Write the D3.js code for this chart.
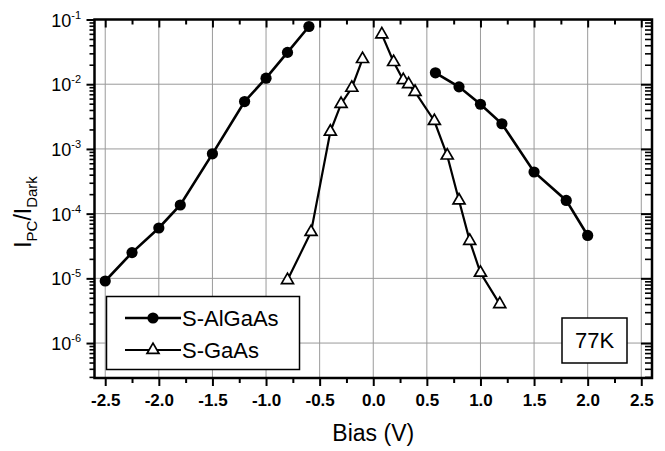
<!DOCTYPE html>
<html><head><meta charset="utf-8">
<script src="https://cdn.jsdelivr.net/npm/d3@7"></script>
<style>body{margin:0;background:#fff}svg{display:block}text{font-family:"Liberation Sans",Arial,sans-serif;fill:#000}</style>
</head><body><svg id="c" width="665" height="451"></svg>
<script>
// Data
const alLeftBias = [-2.5, -2.25, -2.0, -1.8, -1.5, -1.2, -1.0, -0.8, -0.6];
const alLeftVal  = [9.1e-6, 2.5e-5, 6.0e-5, 1.36e-4, 8.4e-4, 5.4e-3, 1.24e-2, 3.1e-2, 7.8e-2];
const alRightBias = [0.58, 0.8, 1.0, 1.2, 1.5, 1.8, 2.0];
const alRightVal  = [1.5e-2, 9.1e-3, 4.9e-3, 2.45e-3, 4.4e-4, 1.6e-4, 4.6e-5];
const gaLeftBias = [-0.8, -0.58, -0.4, -0.3, -0.2, -0.1];
const gaLeftVal  = [9.4e-6, 5.2e-5, 1.85e-3, 4.95e-3, 8.8e-3, 2.45e-2];
const gaRightBias = [0.08, 0.19, 0.28, 0.33, 0.39, 0.57, 0.69, 0.8, 0.9, 1.0, 1.18];
const gaRightVal  = [5.9e-2, 2.2e-2, 1.16e-2, 1.0e-2, 7.6e-3, 2.7e-3, 7.9e-4, 1.6e-4, 3.8e-5, 1.22e-5, 4.0e-6];
const xTicks = [-2.5, -2.0, -1.5, -1.0, -0.5, 0.0, 0.5, 1.0, 1.5, 2.0, 2.5];
const xMinor = [-2.25, -1.75, -1.25, -0.75, -0.25, 0.25, 0.75, 1.25, 1.75, 2.25];
const yExps = [-1, -2, -3, -4, -5, -6];
const seriesNames = ["S-AlGaAs", "S-GaAs"];
const tempLabel = "77K";

const svg = d3.select("#c");
const L = 94.5, R = 652, T = 19.5, B = 378;
const x = d3.scaleLinear().domain([-2.6, 2.6]).range([L, R]);
const y = d3.scaleLog().domain([Math.pow(10, -6.54), 0.1]).range([B, T]);

// minor log ticks
const yMinor = [];
for (let e = -7; e <= -2; e++) for (let k = 2; k <= 9; k++) { const v = k * Math.pow(10, e); if (v >= y.domain()[0] && v <= 0.1) yMinor.push(v); }

// grid
const grid = svg.append("g").attr("stroke", "#9a9a9a").attr("stroke-width", 1);
xTicks.forEach(t => grid.append("line").attr("x1", x(t)).attr("x2", x(t)).attr("y1", T).attr("y2", B));
yExps.forEach(e => grid.append("line").attr("x1", L).attr("x2", R).attr("y1", y(Math.pow(10, e))).attr("y2", y(Math.pow(10, e))));

// axes
const ax = svg.append("g");
ax.append("g").attr("transform", `translate(0,${B})`)
  .call(d3.axisBottom(x).tickValues(xTicks).tickSize(8).tickFormat(d3.format(".1f")))
  .call(g => { g.select(".domain").remove(); g.selectAll("line").attr("stroke-width", 2);
    g.selectAll("text").attr("font-size", 17).attr("font-weight", "bold").attr("dy", null).attr("y", 28).text(d => d3.format(".1f")(d).replace("−", "-")); });
ax.append("g").attr("transform", `translate(0,${B})`)
  .call(d3.axisBottom(x).tickValues(xMinor).tickSize(5).tickFormat(""))
  .call(g => { g.select(".domain").remove(); g.selectAll("line").attr("stroke-width", 2); });
// top axis inward
ax.append("g").attr("transform", `translate(0,${T})`)
  .call(d3.axisBottom(x).tickValues(xTicks).tickSize(8).tickFormat(""))
  .call(g => { g.select(".domain").remove(); g.selectAll("line").attr("stroke-width", 2); });
ax.append("g").attr("transform", `translate(0,${T})`)
  .call(d3.axisBottom(x).tickValues(xMinor).tickSize(5).tickFormat(""))
  .call(g => { g.select(".domain").remove(); g.selectAll("line").attr("stroke-width", 2); });
// left axis outward
const decVals = yExps.map(e => Math.pow(10, e));
ax.append("g").attr("transform", `translate(${L},0)`)
  .call(d3.axisLeft(y).tickValues(decVals).tickSize(8).tickFormat(""))
  .call(g => { g.select(".domain").remove(); g.selectAll("line").attr("stroke-width", 2); });
ax.append("g").attr("transform", `translate(${L},0)`)
  .call(d3.axisLeft(y).tickValues(yMinor).tickSize(5).tickFormat(""))
  .call(g => { g.select(".domain").remove(); g.selectAll("line").attr("stroke-width", 1.6); });
// right axis inward
ax.append("g").attr("transform", `translate(${R},0)`)
  .call(d3.axisLeft(y).tickValues(decVals).tickSize(11).tickFormat(""))
  .call(g => { g.select(".domain").remove(); g.selectAll("line").attr("stroke-width", 2); });
ax.append("g").attr("transform", `translate(${R},0)`)
  .call(d3.axisLeft(y).tickValues(yMinor).tickSize(7).tickFormat(""))
  .call(g => { g.select(".domain").remove(); g.selectAll("line").attr("stroke-width", 1.6); });
// frame
svg.append("rect").attr("x", L).attr("y", T).attr("width", R - L).attr("height", B - T)
  .attr("fill", "none").attr("stroke", "#000").attr("stroke-width", 2.5);

// y tick labels
yExps.forEach(e => {
  const t = svg.append("text").attr("x", 81).attr("y", y(Math.pow(10, e)) + 7).attr("text-anchor", "end")
    .attr("font-size", 18);
  t.append("tspan").text("10");
  t.append("tspan").attr("dy", -8).attr("font-size", 11).text("-" + Math.abs(e));
});

// axis titles
svg.append("text").attr("x", (L + R) / 2).attr("y", 441).attr("text-anchor", "middle").attr("font-size", 23).text("Bias (V)");
const yt = svg.append("text").attr("transform", "translate(31,212) rotate(-90)").attr("text-anchor", "middle").attr("font-size", 23);
yt.append("tspan").text("I");
yt.append("tspan").attr("dy", 6).attr("font-size", 15).text("PC");
yt.append("tspan").attr("dy", -6).text("/I");
yt.append("tspan").attr("dy", 6).attr("font-size", 15).text("Dark");

// data
const line = d3.line().x(d => x(d[0])).y(d => y(d[1]));
const zip = (a, b) => a.map((v, i) => [v, b[i]]);
const alSets = [zip(alLeftBias, alLeftVal), zip(alRightBias, alRightVal)];
const gaSets = [zip(gaLeftBias, gaLeftVal), zip(gaRightBias, gaRightVal)];
const plot = svg.append("g");
alSets.forEach(s => plot.append("path").attr("d", line(s)).attr("fill", "none").attr("stroke", "#000").attr("stroke-width", 2.6));
gaSets.forEach(s => plot.append("path").attr("d", line(s)).attr("fill", "none").attr("stroke", "#000").attr("stroke-width", 2.2));
const tri = d3.symbol().type(d3.symbolTriangle).size(62);
alSets.forEach(s => plot.selectAll(null).data(s).enter().append("circle")
  .attr("cx", d => x(d[0])).attr("cy", d => y(d[1])).attr("r", 5.6).attr("fill", "#000"));
gaSets.forEach(s => plot.selectAll(null).data(s).enter().append("path").attr("d", tri)
  .attr("transform", d => `translate(${x(d[0])},${y(d[1])})`).attr("fill", "#fff").attr("stroke", "#000").attr("stroke-width", 1.7));

// legend
const lg = svg.append("g");
lg.append("rect").attr("x", 106.5).attr("y", 296.5).attr("width", 193).attr("height", 73)
  .attr("fill", "#fff").attr("stroke", "#000").attr("stroke-width", 1.5);
lg.append("line").attr("x1", 125).attr("x2", 181).attr("y1", 318).attr("y2", 318).attr("stroke", "#000").attr("stroke-width", 2.6);
lg.append("circle").attr("cx", 153).attr("cy", 318).attr("r", 5.6).attr("fill", "#000");
lg.append("text").attr("x", 182).attr("y", 326).attr("font-size", 22).text(seriesNames[0]);
lg.append("line").attr("x1", 125).attr("x2", 181).attr("y1", 350).attr("y2", 350).attr("stroke", "#000").attr("stroke-width", 2);
lg.append("path").attr("d", tri).attr("transform", "translate(153,350)").attr("fill", "#fff").attr("stroke", "#000").attr("stroke-width", 1.7);
lg.append("text").attr("x", 182).attr("y", 358).attr("font-size", 22).text(seriesNames[1]);

// temperature box
svg.append("rect").attr("x", 562).attr("y", 318).attr("width", 65).attr("height", 45)
  .attr("fill", "#fff").attr("stroke", "#000").attr("stroke-width", 1.5);
svg.append("text").attr("x", 594.5).attr("y", 348).attr("text-anchor", "middle").attr("font-size", 22).text(tempLabel);
</script></body></html>
